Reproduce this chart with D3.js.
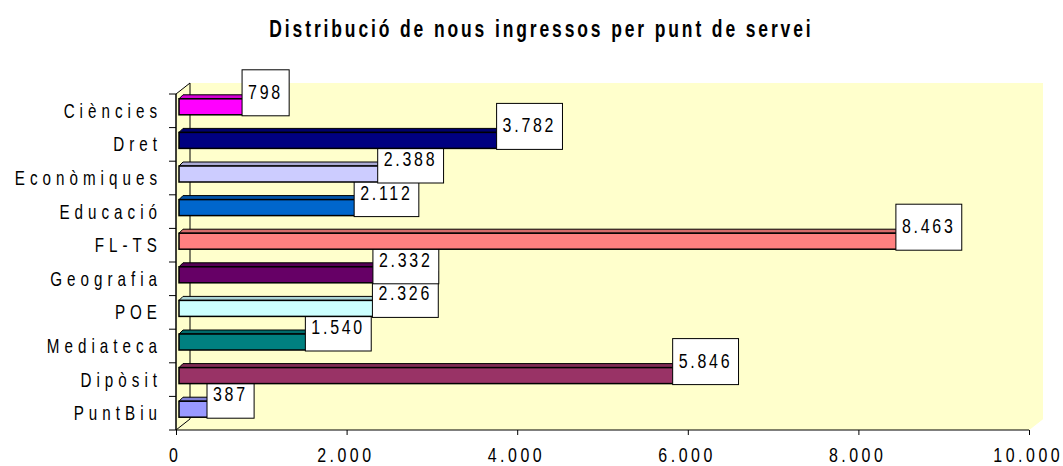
<!DOCTYPE html>
<html>
<head>
<meta charset="utf-8">
<script src="https://cdn.jsdelivr.net/npm/d3@7"></script>
<style>
  body { margin: 0; background: #fff; }
  text { font-family: "Liberation Sans", Arial, sans-serif; }
</style>
</head>
<body>
<div id="chart"></div>
<script>
// data
var categories = ["Ciències", "Dret", "Econòmiques", "Educació", "FL-TS",
                  "Geografia", "POE", "Mediateca", "Dipòsit", "PuntBiu"];
var values = [798, 3782, 2388, 2112, 8463, 2332, 2326, 1540, 5846, 387];
var barColors = ["#FF00FF", "#000080", "#CCCCFF", "#0066CC", "#FF8080",
                 "#660066", "#CCFFFF", "#008080", "#993366", "#9999FF"];
var xTicks = [0, 2000, 4000, 6000, 8000, 10000];
var title = "Distribució de nous ingressos per punt de servei";

var width = 1063, height = 466;
var sx = 0.76;   // horizontal squeeze, the reference uses a narrow face

var svg = d3.select("#chart").append("svg")
    .attr("width", width)
    .attr("height", height);

var x = d3.scaleLinear().domain([0, 10000]).range([176, 1029]);
var y = d3.scaleBand().domain(categories).range([94, 430]);

// number format with dots for thousands
var fmt = function(v){
    return d3.format(",")(v).replace(/,/g, ".");
};

// put a text at (tx, ty) squeezed horizontally
function narrowAt(sel, tx, ty){
    sel.attr("x", 0).attr("y", 0)
        .attr("transform", "translate(" + tx + "," + ty + ") scale(" + sx + ",1)");
}

// 3d wall depth
var wdx = 14, wdy = -11;
var x0 = x(0), x1 = x(10000), yTop = y.range()[0], yBot = y.range()[1];

// back wall
svg.append("path")
    .attr("d", "M " + (x0 + wdx) + " " + (yTop + wdy) +
        " L " + (x1 + wdx) + " " + (yTop + wdy) +
        " L " + (x1 + wdx) + " " + (yBot + wdy) +
        " L " + x1 + " " + yBot +
        " L " + (x0 + wdx) + " " + yBot + " Z")
    .attr("fill", "#FFFFCC");

// floor
svg.append("path")
    .attr("d", "M " + x0 + " " + yBot +
        " L " + (x0 + wdx) + " " + (yBot + wdy) +
        " L " + (x1 + wdx) + " " + (yBot + wdy) +
        " L " + x1 + " " + yBot + " Z")
    .attr("fill", "#FFFFCC");

// side wall
svg.append("path")
    .attr("d", "M " + x0 + " " + yTop +
        " L " + (x0 + wdx) + " " + (yTop + wdy) +
        " L " + (x0 + wdx) + " " + (yBot + wdy) +
        " L " + x0 + " " + yBot + " Z")
    .attr("fill", "#FFFFCC")
    .attr("stroke", "#000")
    .attr("stroke-width", 1);

// category axis
var gy = svg.append("g").attr("class", "y-axis");
gy.append("line").attr("x1", x0).attr("x2", x0).attr("y1", yTop).attr("y2", yBot)
    .attr("stroke", "#000");
for (var k = 0; k <= categories.length; k = k + 1){
    var ty = yTop + k * y.step();
    gy.append("line").attr("x1", x0 - 7).attr("x2", x0).attr("y1", ty).attr("y2", ty)
        .attr("stroke", "#000");
}

var catSpacing = 6.6;
gy.selectAll(".cat-label")
    .data(categories)
    .enter().append("text")
    .attr("class", "cat-label")
    .attr("text-anchor", "end")
    .attr("font-size", 20)
    .attr("letter-spacing", catSpacing + "px")
    .attr("fill", "#000")
    .text(function(d){ return d; })
    .each(function(d){
        narrowAt(d3.select(this), 157 + catSpacing * sx, y(d) + y.bandwidth() / 2 + 7);
    });

// value axis
var xAxis = d3.axisBottom(x).tickValues(xTicks).tickSize(5).tickFormat(fmt);
var gx = svg.append("g")
    .attr("transform", "translate(0," + yBot + ")")
    .call(xAxis);
gx.select(".domain").attr("d", "M" + x0 + ",0H" + x1).attr("stroke", "#000");
gx.selectAll(".tick line").attr("stroke", "#000");
var tickSpacing = 4.6;
gx.selectAll(".tick text")
    .attr("font-size", 21)
    .attr("font-family", "'Liberation Sans', Arial, sans-serif")
    .attr("letter-spacing", tickSpacing + "px")
    .attr("fill", "#000")
    .attr("dy", 0)
    .each(function(){
        narrowAt(d3.select(this), tickSpacing * sx / 2 - 3, 32);
    });

// bars, drawn bottom to top so upper bars cover lower labels
var bh = 16, bdx = 4, bdy = -4, bfx = 3;
var valSpacing = 3.6;
for (var i = categories.length - 1; i >= 0; i = i - 1){
    var c = categories[i];
    var v = values[i];
    var col = d3.color(barColors[i]);
    var cy = y(c) + y.bandwidth() / 2 - 4;
    var fx0 = x(0) + bfx, fx1 = x(v) + bfx;
    var fy0 = cy - bh / 2, fy1 = cy + bh / 2;
    var g = svg.append("g").attr("class", "bar");

    // top face
    g.append("path")
        .attr("d", "M " + fx0 + " " + fy0 +
            " L " + (fx0 + bdx) + " " + (fy0 + bdy) +
            " L " + (fx1 + bdx) + " " + (fy0 + bdy) +
            " L " + fx1 + " " + fy0 + " Z")
        .attr("fill", col.darker(0.5))
        .attr("stroke", "#000").attr("stroke-width", 1);
    // side face
    g.append("path")
        .attr("d", "M " + fx1 + " " + fy0 +
            " L " + (fx1 + bdx) + " " + (fy0 + bdy) +
            " L " + (fx1 + bdx) + " " + (fy1 + bdy) +
            " L " + fx1 + " " + fy1 + " Z")
        .attr("fill", col.darker(1.2))
        .attr("stroke", "#000").attr("stroke-width", 1);
    // front face
    g.append("rect")
        .attr("x", fx0).attr("y", fy0)
        .attr("width", fx1 - fx0).attr("height", bh)
        .attr("fill", col)
        .attr("stroke", "#000").attr("stroke-width", 1.5);

    // value label box
    var lx = x(v) - 2;
    var boxH = 46;
    var by = fy1 + 1 - boxH;
    var lg = svg.append("g").attr("class", "value-label");
    var box = lg.append("rect")
        .attr("x", lx).attr("y", by)
        .attr("height", boxH)
        .attr("fill", "#fff")
        .attr("stroke", "#000").attr("stroke-width", 1);
    var t = lg.append("text")
        .attr("font-size", 21)
        .attr("letter-spacing", valSpacing + "px")
        .attr("fill", "#000")
        .text(fmt(v));
    narrowAt(t, lx + 6, by + 29);
    var tw = t.node().getComputedTextLength() * sx - valSpacing * sx;
    box.attr("width", tw + 15);
}

// title
var titleSpacing = 3.8;
var tt = svg.append("text")
    .attr("text-anchor", "middle")
    .attr("font-size", 23)
    .attr("font-weight", "bold")
    .attr("letter-spacing", titleSpacing + "px")
    .attr("fill", "#000")
    .text(title);
narrowAt(tt, 540 + titleSpacing * sx / 2, 37);
</script>
</body>
</html>
